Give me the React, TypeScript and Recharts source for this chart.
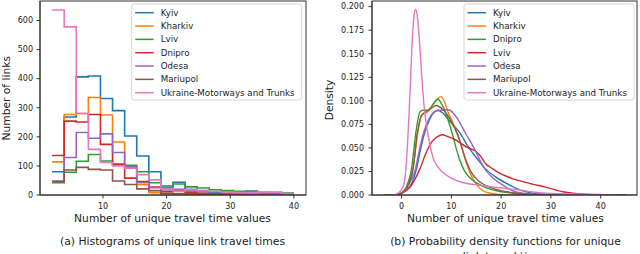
import React from 'react';
import { LineChart, Line, XAxis, YAxis } from 'recharts';

// ---------- Histogram (left) ----------
const HIST_EDGES = [2, 3.9, 5.8, 7.7, 9.6, 11.5, 13.4, 15.3, 17.2, 19.1, 21, 22.9, 24.8, 26.7, 28.6, 30.5, 32.4, 34.3, 36.2, 38.1, 40];
const HIST_NAMES = ['Kyiv', 'Kharkiv', 'Lviv', 'Dnipro', 'Odesa', 'Mariupol', 'Ukraine-Motorways and Trunks'];
const HIST_COLORS = ['#1f77b4', '#ff7f0e', '#2ca02c', '#d62728', '#9467bd', '#8c564b', '#e377c2'];
const kyivHist = [80, 268, 406, 409, 332, 290, 203, 134, 80, 31, 44, 14, 11, 9, 8, 10, 14, 6, 3, 3];
const kharkivHist = [114, 277, 280, 335, 275, 182, 95, 35, 8, 4, 4, 3, 2, 2, 1, 1, 1, 1, 0, 0];
const lvivHist = [42, 78, 116, 139, 117, 106, 102, 80, 42, 26, 38, 28, 24, 18, 15, 13, 11, 9, 8, 7];
const dniproHist = [136, 254, 251, 277, 174, 105, 58, 46, 27, 11, 15, 8, 6, 4, 3, 3, 2, 2, 1, 1];
const odesaHist = [48, 129, 215, 195, 210, 146, 97, 42, 25, 17, 20, 20, 15, 12, 10, 8, 6, 5, 4, 3];
const mariupolHist = [46, 86, 95, 88, 86, 48, 36, 21, 15, 6, 5, 4, 3, 3, 2, 2, 1, 1, 1, 1];
const ukraineHist = [636, 578, 280, 157, 112, 100, 92, 70, 52, 22, 14, 18, 14, 12, 10, 8, 8, 10, 10, 3];
const HIST_SERIES = [kyivHist, kharkivHist, lvivHist, dniproHist, odesaHist, mariupolHist, ukraineHist];
const HIST_X_TICKS = [10, 20, 30, 40];
const HIST_Y_TICKS = [0, 100, 200, 300, 400, 500, 600];

// ---------- Density (right) ----------
const KDE_NAMES = ['Kyiv', 'Kharkiv', 'Dnipro', 'Lviv', 'Odesa', 'Mariupol', 'Ukraine-Motorways and Trunks'];
const KDE_COLORS = ['#1f77b4', '#ff7f0e', '#2ca02c', '#d62728', '#9467bd', '#8c564b', '#e377c2'];
const kyivKde: [number, number][] = [[-1, 0], [0, 0.002], [1, 0.005], [2, 0.012], [3, 0.028], [3.7, 0.046], [4.5, 0.064], [5.7, 0.081], [6.5, 0.088], [7.3, 0.09], [8.3, 0.087], [9.7, 0.078], [10.7, 0.0725], [11.7, 0.066], [13.4, 0.051], [15.1, 0.039], [16.8, 0.028], [18.8, 0.0195], [21, 0.0125], [23.5, 0.006], [25.7, 0.0025], [29, 0.0007], [33, 0.0001], [38, 0]];
const kharkivKde: [number, number][] = [[-1, 0], [0, 0.002], [1, 0.008], [2.3, 0.028], [3.2, 0.064], [4.0, 0.085], [4.7, 0.087], [5.3, 0.0885], [6.3, 0.096], [7.2, 0.102], [7.9, 0.1045], [8.6, 0.099], [9.3, 0.0885], [10.3, 0.077], [11.2, 0.065], [12.0, 0.053], [13.0, 0.034], [14.05, 0.02], [15.1, 0.011], [16.1, 0.0053], [17.8, 0.0018], [20, 0.0004], [24, 0]];
const dniproKde: [number, number][] = [[-1, 0], [0, 0.002], [1, 0.009], [2, 0.028], [2.8, 0.064], [3.7, 0.0885], [4.3, 0.09], [5.2, 0.09], [6.3, 0.096], [7.3, 0.102], [8.0, 0.097], [8.8, 0.088], [9.5, 0.077], [10.3, 0.063], [11, 0.049], [11.7, 0.037], [12.7, 0.025], [14.2, 0.016], [16.5, 0.009], [19.5, 0.004], [23, 0.002], [27, 0.0006], [32, 0]];
const lvivKde: [number, number][] = [[-3.5, 0], [-1, 0.0003], [0, 0.002], [1, 0.005], [2, 0.0106], [3, 0.02], [3.7, 0.028], [5, 0.046], [6.3, 0.058], [7.2, 0.062], [8.2, 0.064], [9.3, 0.062], [10.3, 0.06], [11.3, 0.057], [13, 0.051], [14.7, 0.047], [15.6, 0.043], [17.1, 0.032], [17.7, 0.03], [19.4, 0.024], [22, 0.018], [25.7, 0.0124], [29.1, 0.0081], [32.4, 0.0035], [34.4, 0.0018], [37.1, 0.0007], [40, 0.0002], [45.2, 0]];
const odesaKde: [number, number][] = [[-1, 0], [0, 0.002], [1, 0.007], [2, 0.017], [2.8, 0.028], [3.5, 0.046], [4.3, 0.064], [5.5, 0.081], [6.7, 0.0885], [7.7, 0.09], [9.0, 0.0905], [9.7, 0.09], [10.7, 0.085], [12, 0.074], [13, 0.064], [13.7, 0.058], [15.1, 0.044], [16.4, 0.03], [18.4, 0.0177], [20.5, 0.01], [22.3, 0.0045], [25.7, 0.001], [30, 0.0002], [34, 0]];
const mariupolKde: [number, number][] = [[-1, 0], [0, 0.002], [1, 0.008], [2.3, 0.028], [3.1, 0.064], [4.1, 0.085], [5.3, 0.09], [6.2, 0.093], [7.0, 0.095], [7.8, 0.093], [8.7, 0.0885], [10, 0.078], [11.4, 0.062], [12.7, 0.04], [14, 0.024], [15.7, 0.014], [18.4, 0.007], [21, 0.0035], [24, 0.001], [28, 0.0002], [32, 0]];
const ukraineKde: [number, number][] = [[-1.5, 0], [-1, 0.001], [0, 0.006], [0.5, 0.012], [0.9, 0.03], [1.3, 0.065], [1.7, 0.11], [2.1, 0.16], [2.5, 0.19], [2.8, 0.197], [3.1, 0.192], [3.5, 0.17], [4.0, 0.13], [4.5, 0.095], [5.3, 0.064], [6.3, 0.04], [7.4, 0.029], [8.5, 0.023], [10, 0.018], [12, 0.0135], [14.7, 0.011], [17, 0.0095], [19.1, 0.008], [21.8, 0.0065], [24, 0.005], [26, 0.0035], [29, 0.002], [35.8, 0.001], [40, 0.0005], [43, 0]];
const KDE_SERIES = [kyivKde, kharkivKde, dniproKde, lvivKde, odesaKde, mariupolKde, ukraineKde];
const KDE_X_TICKS = [0, 10, 20, 30, 40];
const KDE_Y_TICKS = [0, 0.025, 0.05, 0.075, 0.1, 0.125, 0.15, 0.175, 0.2];

const FONT = 'DejaVu Sans, sans-serif';
const TEXT = '#222';
const FRAME = '#333';
const tickStyle = { fontSize: 8, fill: TEXT, fontFamily: FONT };

function histData(vals: number[]) {
  return HIST_EDGES.map((e, i) => ({ x: e, y: i < vals.length ? vals[i] : vals[vals.length - 1] }));
}
function kdeData(pts: [number, number][]) {
  return pts.map(([x, y]) => ({ x, y }));
}

function LegendBox({ x, names, colors }: { x: number; names: string[]; colors: string[] }) {
  const top = 4;
  const rowH = 13.33;
  return (
    <g>
      <rect x={x} y={top} width={170} height={96} rx={2.5} fill="#fff" fillOpacity={0.8} stroke="#cccccc" strokeWidth={0.8} />
      {names.map((n, i) => {
        const cy = 12.7 + i * rowH;
        return (
          <g key={n}>
            <line x1={x + 3.5} x2={x + 22} y1={cy} y2={cy} stroke={colors[i]} strokeWidth={1.5} />
            <text x={x + 29} y={cy + 3.1} fontSize={8.7} fill={TEXT} fontFamily={FONT}>{n}</text>
          </g>
        );
      })}
    </g>
  );
}

export default function App() {
  return (
    <div style={{ position: 'absolute', left: 0, top: 0, width: 640, height: 254, overflow: 'hidden', background: '#fff', fontFamily: FONT }}>
      <div style={{ position: 'absolute', left: 0, top: 0 }}>
        <LineChart width={320} height={254} margin={{ top: 1, right: 14, bottom: 34, left: 0 }}>
          <XAxis type="number" dataKey="x" domain={[0.1, 41.9]} ticks={HIST_X_TICKS} allowDataOverflow
            height={25} tick={tickStyle} tickSize={3.5} tickMargin={5} stroke={FRAME} tickLine={{ stroke: FRAME }} />
          <YAxis type="number" domain={[0, 667]} ticks={HIST_Y_TICKS} allowDataOverflow width={40}
            tick={tickStyle} tickSize={3.5} tickMargin={3.5} stroke={FRAME} tickLine={{ stroke: FRAME }} />
          {HIST_SERIES.map((s, i) => (
            <Line key={HIST_NAMES[i]} data={histData(s)} dataKey="y" name={HIST_NAMES[i]}
              type="stepAfter" stroke={HIST_COLORS[i]} strokeWidth={1.6} dot={false} isAnimationActive={false} />
          ))}
        </LineChart>
      </div>
      <div style={{ position: 'absolute', left: 320, top: 0 }}>
        <LineChart width={320} height={254} margin={{ top: 1, right: 3, bottom: 34, left: 0 }}>
          <XAxis type="number" dataKey="x" domain={[-5.95, 47.3]} ticks={KDE_X_TICKS} allowDataOverflow
            height={25} tick={tickStyle} tickSize={3.5} tickMargin={5} stroke={FRAME} tickLine={{ stroke: FRAME }} />
          <YAxis type="number" domain={[0, 0.206]} ticks={KDE_Y_TICKS} allowDataOverflow width={52}
            tick={tickStyle} tickSize={3.5} tickMargin={4.5} stroke={FRAME} tickLine={{ stroke: FRAME }}
            tickFormatter={(v: number) => v.toFixed(3)} />
          {KDE_SERIES.map((s, i) => (
            <Line key={KDE_NAMES[i]} data={kdeData(s)} dataKey="y" name={KDE_NAMES[i]}
              type="monotone" stroke={KDE_COLORS[i]} strokeWidth={1.4} dot={false} isAnimationActive={false} />
          ))}
        </LineChart>
      </div>
      <svg width={640} height={254} style={{ position: 'absolute', left: 0, top: 0, pointerEvents: 'none' }}>
        <rect x={40} y={1} width={266} height={194} fill="none" stroke={FRAME} strokeWidth={1} />
        <rect x={372} y={1} width={265} height={194} fill="none" stroke={FRAME} strokeWidth={1} />
        <LegendBox x={131.7} names={HIST_NAMES} colors={HIST_COLORS} />
        <LegendBox x={464} names={KDE_NAMES} colors={KDE_COLORS} />
        <g fontFamily={FONT} fill={TEXT} fontSize={10.7} textAnchor="middle">
          <text x={172.5} y={222}>Number of unique travel time values</text>
          <text x={505.5} y={222}>Number of unique travel time values</text>
          <text transform="translate(9.5,98.3) rotate(-90)">Number of links</text>
          <text transform="translate(332.8,100) rotate(-90)">Density</text>
          <text x={172.5} y={244.5} fontSize={10.8}>(a) Histograms of unique link travel times</text>
          <text x={505.5} y={244.5} fontSize={10.8}>(b) Probability density functions for unique</text>
          <text x={506.5} y={259.7} fontSize={10.8}>link travel times</text>
        </g>
      </svg>
    </div>
  );
}
